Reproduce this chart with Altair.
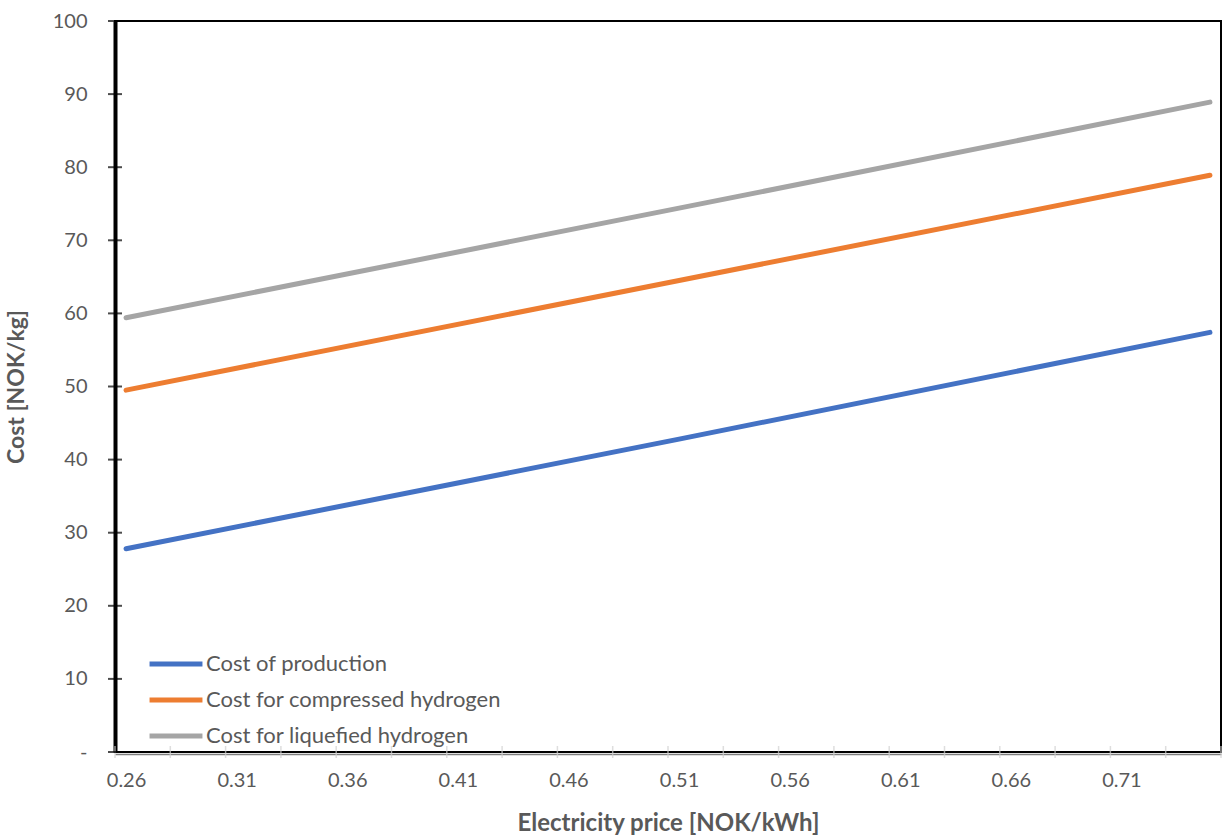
import altair as alt
import pandas as pd

series = ["Cost of production", "Cost for compressed hydrogen", "Cost for liquefied hydrogen"]
colors = ["#4472C4", "#ED7D31", "#A5A5A5"]
price = [0.26, 0.51, 0.75]
production = [27.8, 42.8, 57.4]
compressed = [49.5, 64.5, 78.9]
liquefied = [59.4, 74.4, 88.9]

x_labels = [0.26, 0.31, 0.36, 0.41, 0.46, 0.51, 0.56, 0.61, 0.66, 0.71]
x_ticks = [round(0.255 + 0.025 * k, 3) for k in range(21)]
y_ticks = [0, 10, 20, 30, 40, 50, 60, 70, 80, 90, 100]

rows = []
for name, vals in zip(series, [production, compressed, liquefied]):
    for p, v in zip(price, vals):
        rows.append({"price": p, "cost": v, "series": name})
df = pd.DataFrame(rows)

FONT = "Lato"
GREY = "#595959"
xs = alt.Scale(domain=[0.255, 0.755], nice=False, zero=False)
ys = alt.Scale(domain=[0, 100], nice=False)

lines = alt.Chart(df).mark_line(strokeWidth=5, strokeCap="round").encode(
    x=alt.X("price:Q", scale=xs,
            axis=alt.Axis(values=x_labels, format=".2f", title="Electricity price [NOK/kWh]",
                          tickSize=0, domainColor="#7f7f7f", domainWidth=1.5, offset=2,
                          labelPadding=16, titlePadding=21, titleFontSize=24, grid=False)),
    y=alt.Y("cost:Q", scale=ys,
            axis=alt.Axis(values=y_ticks, title="Cost [NOK/kg]", tickSize=0,
                          labelExpr="datum.value == 0 ? '-' : datum.label",
                          domainColor="black", domainWidth=4, labelPadding=28,
                          titlePadding=24, titleFontSize=23, grid=False)),
    color=alt.Color("series:N", sort=series,
                    scale=alt.Scale(domain=series, range=colors),
                    legend=alt.Legend(title=None, orient="none", legendX=45, legendY=627,
                                      symbolType="M-2,0H2", symbolStrokeWidth=5,
                                      symbolSize=700, labelOffset=14, rowPadding=9,
                                      labelFontSize=22, labelColor=GREY, labelFont=FONT,
                                      labelLimit=0, padding=0)),
)

ytick_df = pd.DataFrame({"y": y_ticks, "x": [0.255] * len(y_ticks)})
yticks = alt.Chart(ytick_df).mark_tick(orient="horizontal", size=14, thickness=2, color="black").encode(
    x=alt.X("x:Q", scale=xs), y=alt.Y("y:Q", scale=ys))

xtick_df = pd.DataFrame({"x": x_ticks, "y": [0] * len(x_ticks)})
xticks = alt.Chart(xtick_df).mark_tick(orient="vertical", size=12, thickness=1.5, color="#d0d0d0").encode(
    x=alt.X("x:Q", scale=xs), y=alt.Y("y:Q", scale=ys))

chart = alt.layer(xticks, yticks, lines).properties(
    width=1106, height=731,
    padding={"left": 115, "top": 21, "right": 3, "bottom": 87},
    autosize=alt.AutoSizeParams(type="none"),
).configure_view(stroke="black", strokeWidth=2).configure_axis(
    labelFont=FONT, labelFontSize=20, labelColor=GREY,
    titleFont=FONT, titleColor=GREY, titleFontWeight="bold",
)

chart.save("out.html", embed_options={"renderer": "svg", "actions": False})
